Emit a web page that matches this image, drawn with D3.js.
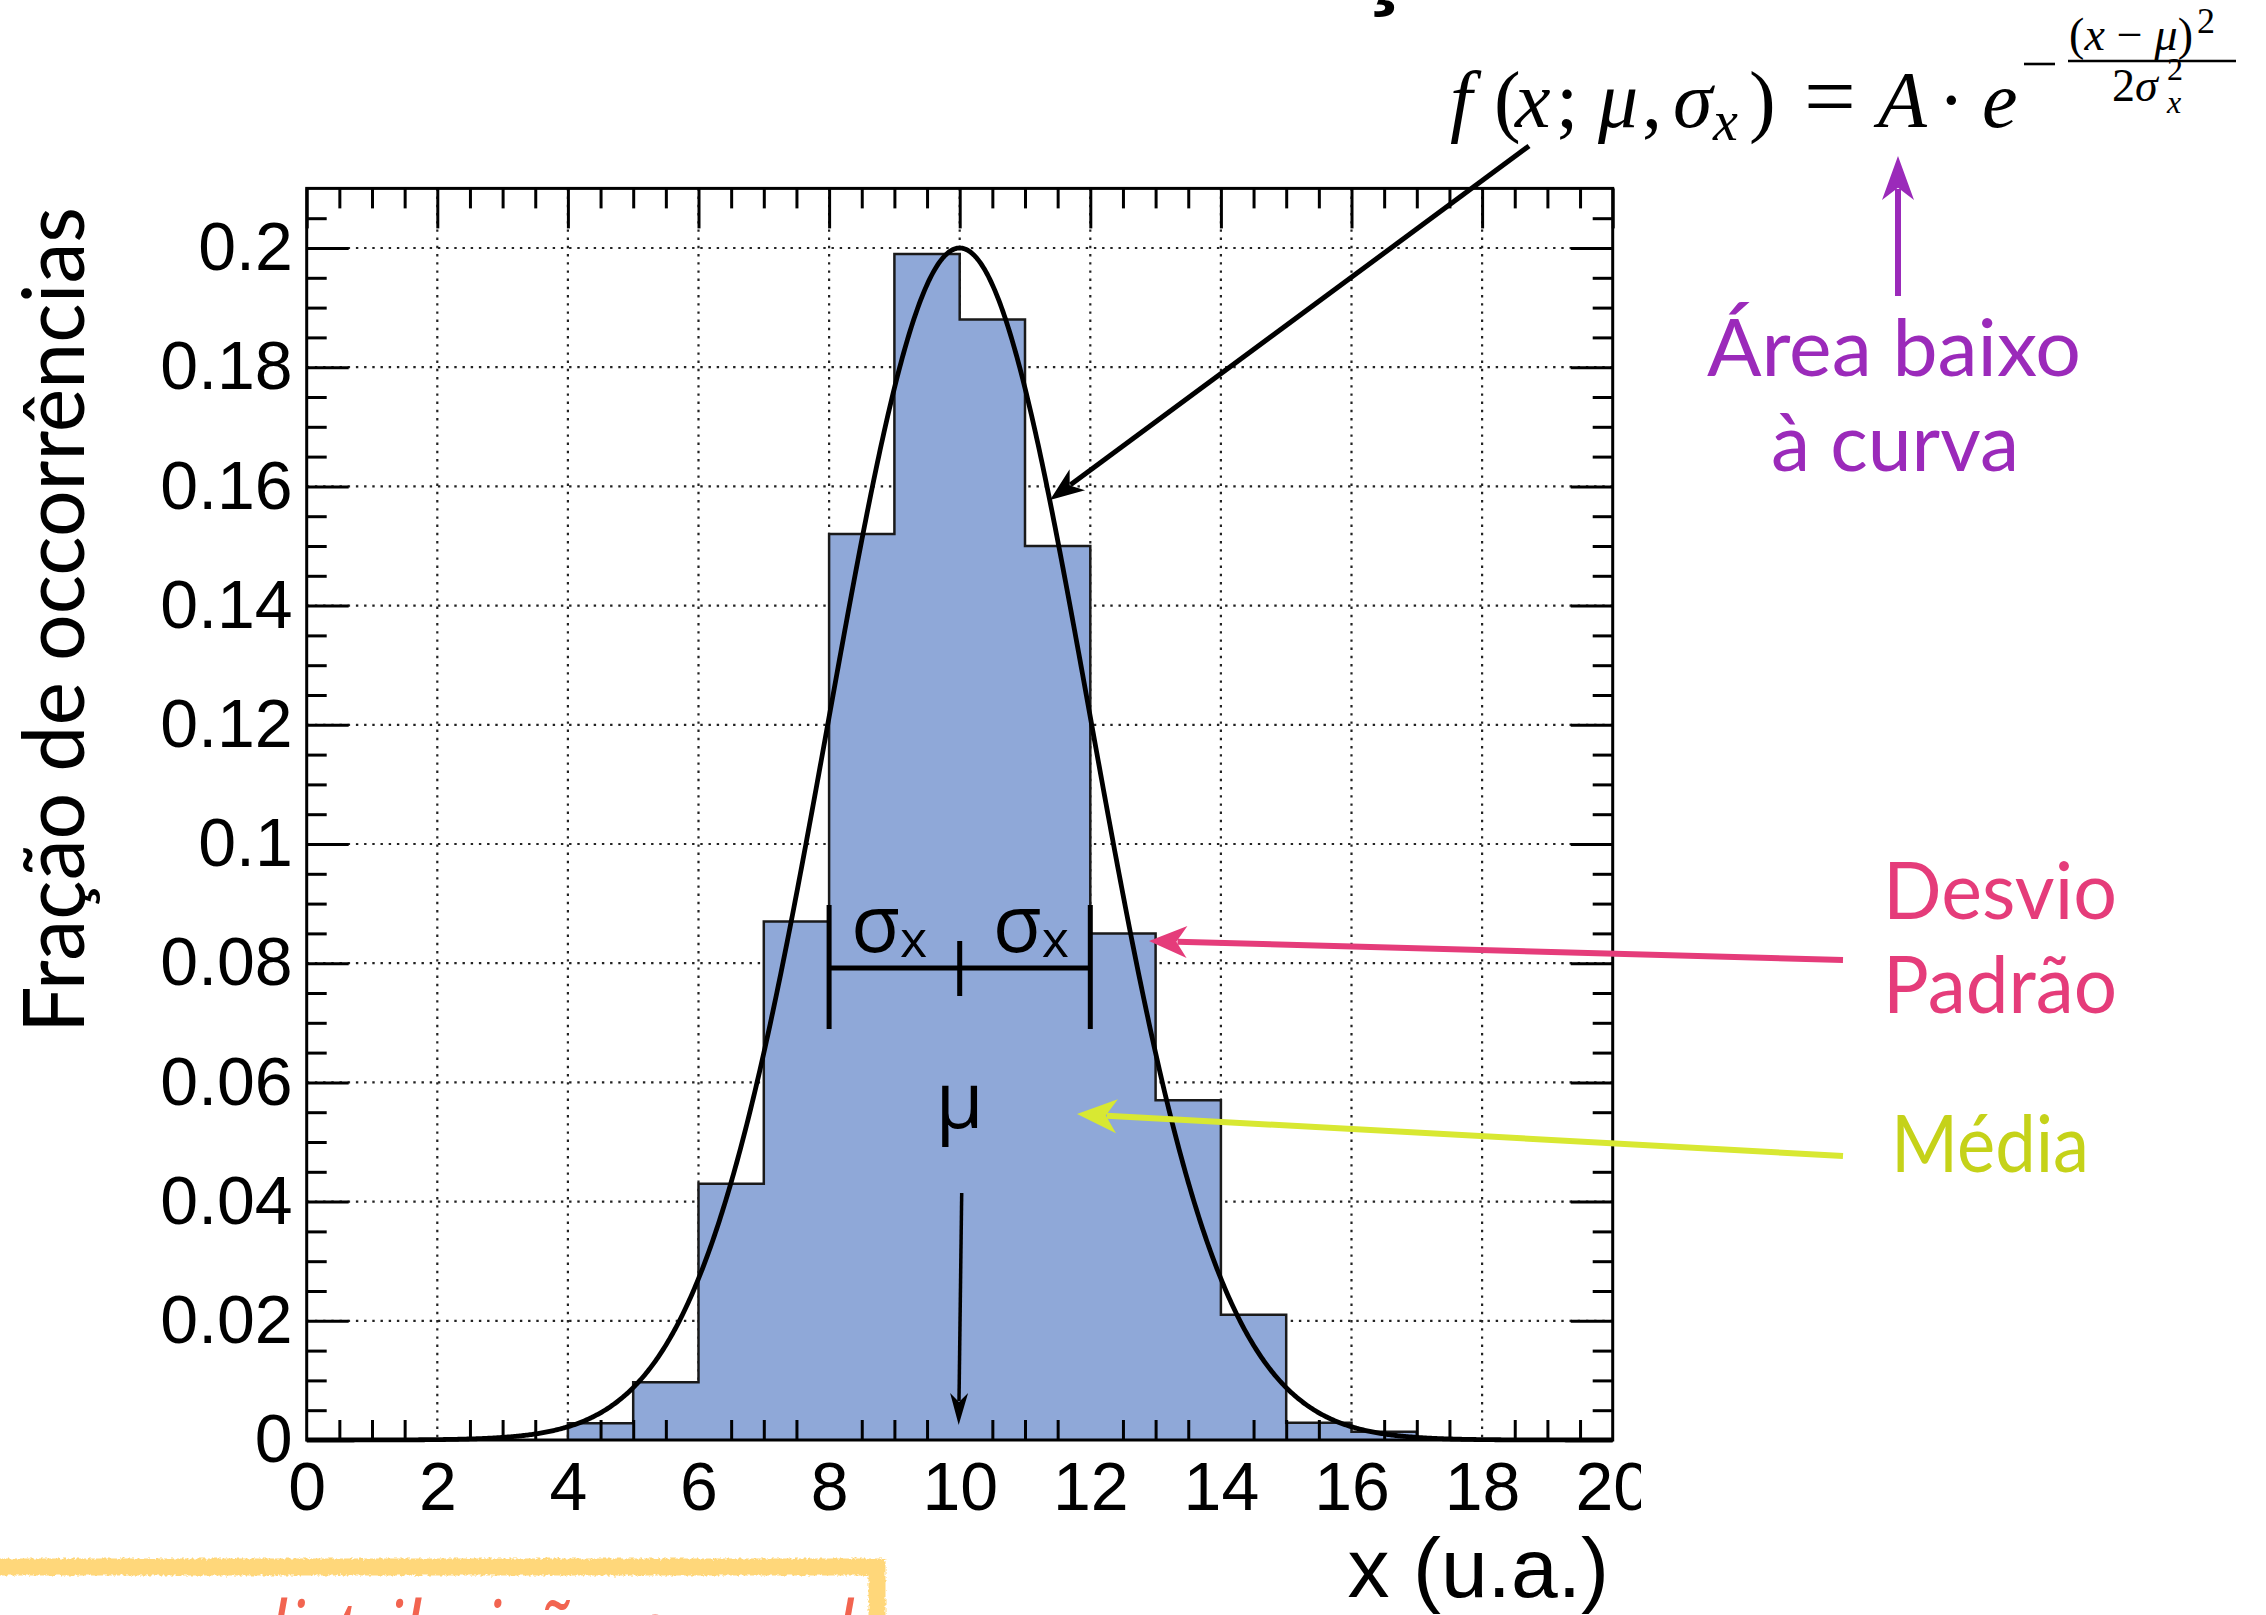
<!DOCTYPE html>
<html><head><meta charset="utf-8">
<script src="https://cdn.jsdelivr.net/npm/d3@7"></script>
<style>html,body{margin:0;padding:0;background:#fff;overflow:hidden}svg{display:block}</style>
</head><body>
<script>
// ---------- data ----------
const binLow = [4, 5, 6, 7, 8, 9, 10, 11, 12, 13, 14, 15, 16];
const binFraction = [0.0028, 0.0097, 0.043, 0.087, 0.152, 0.199, 0.188, 0.150, 0.085, 0.057, 0.021, 0.0029, 0.0014];
const binWidth = 1;
const fitA = 0.2, fitMu = 10, fitSigma = 2;
const xTickValues = [0, 2, 4, 6, 8, 10, 12, 14, 16, 18, 20];
const xTickLabels = ["0", "2", "4", "6", "8", "10", "12", "14", "16", "18", "20"];
const yTickValues = [0, 0.02, 0.04, 0.06, 0.08, 0.1, 0.12, 0.14, 0.16, 0.18, 0.2];
const yTickLabels = ["0", "0.02", "0.04", "0.06", "0.08", "0.1", "0.12", "0.14", "0.16", "0.18", "0.2"];
const xMinorValues = [0.5,1,1.5,2.5,3,3.5,4.5,5,5.5,6.5,7,7.5,8.5,9,9.5,10.5,11,11.5,12.5,13,13.5,14.5,15,15.5,16.5,17,17.5,18.5,19,19.5];
const yMinorValues = [0.005,0.01,0.015,0.025,0.03,0.035,0.045,0.05,0.055,0.065,0.07,0.075,0.085,0.09,0.095,0.105,0.11,0.115,0.125,0.13,0.135,0.145,0.15,0.155,0.165,0.17,0.175,0.185,0.19,0.195,0.205];
const xTitle = "x (u.a.)";
const yTitle = "Fração de occorrências";

// ---------- layout ----------
const W = 2266, H = 1615;
const L = 306.7, R = 1612.7, T = 188.4, B = 1440;
const x = d3.scaleLinear().domain([0, 20]).range([L, R]);
const y = d3.scaleLinear().domain([0, 0.21]).range([B, T]);

const svg = d3.select("body").append("svg").attr("width", W).attr("height", H);
const defs = svg.append("defs");
defs.append("clipPath").attr("id", "pageclip").append("rect").attr("x", 0).attr("y", 0).attr("width", 1641).attr("height", H);
const rough = defs.append("filter").attr("id", "rough").attr("x", "-5%").attr("y", "-20%").attr("width", "110%").attr("height", "140%");
rough.append("feTurbulence").attr("type", "fractalNoise").attr("baseFrequency", "0.35").attr("numOctaves", 2).attr("result", "n");
rough.append("feDisplacementMap").attr("in", "SourceGraphic").attr("in2", "n").attr("scale", 5);

// grid
const grid = svg.append("g");
grid.selectAll("line.gx").data(xTickValues.filter(v => v > 0 && v < 20)).join("line")
  .attr("x1", d => x(d)).attr("x2", d => x(d)).attr("y1", T).attr("y2", B)
  .attr("stroke", "#222").attr("stroke-width", 2.2).attr("stroke-dasharray", "2.4,5.8");
grid.selectAll("line.gy").data(yTickValues.filter(v => v > 0)).join("line")
  .attr("x1", L).attr("x2", R).attr("y1", d => y(d)).attr("y2", d => y(d))
  .attr("stroke", "#222").attr("stroke-width", 2.2).attr("stroke-dasharray", "2.4,5.8");

// histogram
const histPts = [[binLow[0], 0]];
binLow.forEach((b, i) => { histPts.push([b, binFraction[i]]); histPts.push([b + binWidth, binFraction[i]]); });
histPts.push([binLow[binLow.length - 1] + binWidth, 0]);
const histLine = d3.line().x(d => x(d[0])).y(d => y(d[1]));
svg.append("path").attr("d", histLine(histPts) + "Z").attr("fill", "#8FA8D8").attr("stroke", "none");
svg.append("path").attr("d", histLine(histPts)).attr("fill", "none").attr("stroke", "#1a1a1a").attr("stroke-width", 2.5);

// fitted gaussian
const gauss = v => fitA * Math.exp(-((v - fitMu) ** 2) / (2 * fitSigma * fitSigma));
const xs = d3.range(0, 20.001, 0.02);
svg.append("path").attr("d", d3.line().x(d => x(d)).y(d => y(gauss(d)))(xs))
  .attr("fill", "none").attr("stroke", "#000").attr("stroke-width", 4.8);

// axes (ticks inside, ROOT style)
function styleAxis(g) {
  g.select(".domain").remove();
  g.selectAll(".tick line").attr("stroke", "#000").attr("stroke-width", 3);
  g.selectAll("text").attr("font-family", "'Liberation Sans', Arial, sans-serif").attr("font-size", 68).attr("fill", "#000");
}
const ax = svg.append("g");
ax.append("g").attr("transform", `translate(0,${B})`).attr("clip-path", "url(#pageclip)")
  .call(d3.axisBottom(x).tickValues(xTickValues).tickSize(-40).tickPadding(22).tickFormat((d, i) => xTickLabels[i])).call(styleAxis);
ax.append("g").attr("transform", `translate(0,${B})`)
  .call(d3.axisBottom(x).tickValues(xMinorValues).tickSize(-20).tickFormat("")).call(styleAxis);
ax.append("g").attr("transform", `translate(0,${T})`)
  .call(d3.axisTop(x).tickValues(xTickValues).tickSize(-40).tickFormat("")).call(styleAxis);
ax.append("g").attr("transform", `translate(0,${T})`)
  .call(d3.axisTop(x).tickValues(xMinorValues).tickSize(-20).tickFormat("")).call(styleAxis);
ax.append("g").attr("transform", `translate(${L},0)`)
  .call(d3.axisLeft(y).tickValues(yTickValues).tickSize(-42).tickPadding(14).tickFormat((d, i) => yTickLabels[i])).call(styleAxis);
ax.append("g").attr("transform", `translate(${L},0)`)
  .call(d3.axisLeft(y).tickValues(yMinorValues).tickSize(-20).tickFormat("")).call(styleAxis);
ax.append("g").attr("transform", `translate(${R},0)`)
  .call(d3.axisRight(y).tickValues(yTickValues).tickSize(-42).tickFormat("")).call(styleAxis);
ax.append("g").attr("transform", `translate(${R},0)`)
  .call(d3.axisRight(y).tickValues(yMinorValues).tickSize(-20).tickFormat("")).call(styleAxis);
svg.append("rect").attr("x", L).attr("y", T).attr("width", R - L).attr("height", B - T)
  .attr("fill", "none").attr("stroke", "#000").attr("stroke-width", 3);

// axis titles
svg.append("text").attr("x", 1609).attr("y", 1597).attr("text-anchor", "end")
  .attr("font-family", "'Liberation Sans', Arial, sans-serif").attr("font-size", 84).text(xTitle);
svg.append("text").attr("transform", "translate(84,620) rotate(-90)").attr("text-anchor", "middle")
  .attr("font-family", "Lato, 'Open Sans', sans-serif").attr("font-size", 86)
  .attr("textLength", 826).attr("lengthAdjust", "spacingAndGlyphs").text(yTitle);

// ---------- annotations ----------
function arrow(x1, y1, x2, y2, color, w, hl, hh) {
  const a = Math.atan2(y2 - y1, x2 - x1);
  const c = Math.cos(a), s = Math.sin(a);
  const bx = x2 - c * hl * 0.75, by = y2 - s * hl * 0.75;
  svg.append("line").attr("x1", x1).attr("y1", y1).attr("x2", bx).attr("y2", by)
    .attr("stroke", color).attr("stroke-width", w);
  const pts = [[0, 0], [-hl, hh], [-hl * 0.72, 0], [-hl, -hh]]
    .map(([px, py]) => [x2 + px * c - py * s, y2 + px * s + py * c]);
  svg.append("polygon").attr("points", pts.map(p => p.join(",")).join(" ")).attr("fill", color);
}

// sigma bracket
const brY = 968;
const br = svg.append("g").attr("stroke", "#000").attr("stroke-width", 5);
br.append("line").attr("x1", x(fitMu - fitSigma)).attr("x2", x(fitMu + fitSigma)).attr("y1", brY).attr("y2", brY);
br.append("line").attr("x1", x(fitMu - fitSigma)).attr("x2", x(fitMu - fitSigma)).attr("y1", 905).attr("y2", 1029);
br.append("line").attr("x1", x(fitMu + fitSigma)).attr("x2", x(fitMu + fitSigma)).attr("y1", 905).attr("y2", 1029);
br.append("line").attr("x1", x(fitMu)).attr("x2", x(fitMu)).attr("y1", 941).attr("y2", 996);
[[x(fitMu - fitSigma) + 22], [x(fitMu) + 33]].forEach(([sx]) => {
  const t = svg.append("text").attr("x", sx).attr("y", 952).attr("font-family", "'Open Sans', 'Noto Sans', sans-serif").attr("font-size", 80);
  t.append("tspan").text("σ");
  t.append("tspan").attr("font-size", 52).attr("dy", 5).text("x");
});
svg.append("text").attr("x", x(fitMu)).attr("y", 1128).attr("text-anchor", "middle")
  .attr("font-family", "'Open Sans', 'Noto Sans', sans-serif").attr("font-size", 78).text("μ");
arrow(x(fitMu) + 2, 1193, x(fitMu) - 1, 1425, "#000", 3.5, 32, 9);

// formula
const fFam = "'Liberation Serif', 'Times New Roman', serif";
const ftoks = [
  ["f", 1450, 127, 80, true], ["(", 1494, 127, 80, false], ["x", 1515, 127, 80, true],
  [";", 1556, 127, 80, false], ["μ", 1598, 127, 80, true], [",", 1642, 127, 80, false],
  ["σ", 1673, 127, 80, true], ["x", 1713, 140, 56, true], [")", 1749, 127, 80, false],
  ["=", 1804, 127, 92, false], ["A", 1878, 127, 80, true], ["·", 1938, 127, 80, false],
  ["e", 1982, 127, 80, true],
  ["2", 2197, 33, 36, false],
  ["2", 2112, 101, 46, false], ["σ", 2135, 101, 46, true], ["2", 2167, 80, 32, false], ["x", 2167, 113, 32, true]
];
ftoks.forEach(([t, tx, ty, fs, it]) => {
  svg.append("text").attr("x", tx).attr("y", ty).attr("font-family", fFam).attr("font-size", fs)
    .attr("font-style", it ? "italic" : "normal").text(t);
});
svg.append("line").attr("x1", 2024).attr("x2", 2055).attr("y1", 64).attr("y2", 64).attr("stroke", "#000").attr("stroke-width", 2.6);
const num = svg.append("text").attr("x", 2069).attr("y", 50).attr("font-family", fFam).attr("font-size", 46)
  .attr("textLength", 124).attr("lengthAdjust", "spacing");
num.append("tspan").text("(");
num.append("tspan").attr("font-style", "italic").text("x");
num.append("tspan").text(" − ");
num.append("tspan").attr("font-style", "italic").text("μ");
num.append("tspan").text(")");
svg.append("line").attr("x1", 2068).attr("x2", 2236).attr("y1", 61).attr("y2", 61).attr("stroke", "#000").attr("stroke-width", 2.5);

// black arrow to curve
arrow(1529, 146, 1050, 500, "#000", 5, 34, 13);
// purple
const purple = "#9B2ABA";
arrow(1898, 296, 1898, 156, purple, 6, 44, 16);
svg.append("text").attr("x", 1707).attr("y", 376).attr("font-family", "Lato, 'Open Sans', sans-serif").attr("font-size", 80)
  .attr("fill", purple).attr("textLength", 374).attr("lengthAdjust", "spacingAndGlyphs").text("Área baixo");
svg.append("text").attr("x", 1771).attr("y", 471).attr("font-family", "Lato, 'Open Sans', sans-serif").attr("font-size", 80)
  .attr("fill", purple).attr("textLength", 248).attr("lengthAdjust", "spacingAndGlyphs").text("à curva");
// pink
const pink = "#E53C7A";
arrow(1843, 960, 1149, 941, pink, 6, 38, 16);
svg.append("text").attr("x", 1883).attr("y", 919).attr("font-family", "Lato, 'Open Sans', sans-serif").attr("font-size", 80)
  .attr("fill", pink).attr("textLength", 234).attr("lengthAdjust", "spacingAndGlyphs").text("Desvio");
svg.append("text").attr("x", 1883).attr("y", 1013).attr("font-family", "Lato, 'Open Sans', sans-serif").attr("font-size", 80)
  .attr("fill", pink).attr("textLength", 234).attr("lengthAdjust", "spacingAndGlyphs").text("Padrão");
// yellow-green
arrow(1843, 1156, 1077, 1114, "#D8E832", 6, 40, 17);
svg.append("text").attr("x", 1891).attr("y", 1172).attr("font-family", "Lato, 'Open Sans', sans-serif").attr("font-size", 80)
  .attr("fill", "#C5D219").attr("textLength", 198).attr("lengthAdjust", "spacingAndGlyphs").text("Média");

// cut-off title at the very top
svg.append("text").attr("x", 950).attr("y", -4).attr("font-family", "'Liberation Sans', Arial, sans-serif")
  .attr("font-weight", "bold").attr("font-size", 100).text("Distribuição");

// sketchy yellow box + red caption at bottom-left
svg.append("path").attr("d", "M -10 1567 L 877 1567 L 877 1630").attr("fill", "none")
  .attr("stroke", "#FFD77A").attr("stroke-width", 17).attr("filter", "url(#rough)");
svg.append("text").attr("x", 246).attr("y", 1660).attr("font-family", "'Noto Sans', sans-serif").attr("font-style", "italic")
  .attr("font-size", 82).attr("fill", "#F26450").attr("textLength", 607).attr("lengthAdjust", "spacingAndGlyphs")
  .text("distribuição normal");
</script>
</body></html>
